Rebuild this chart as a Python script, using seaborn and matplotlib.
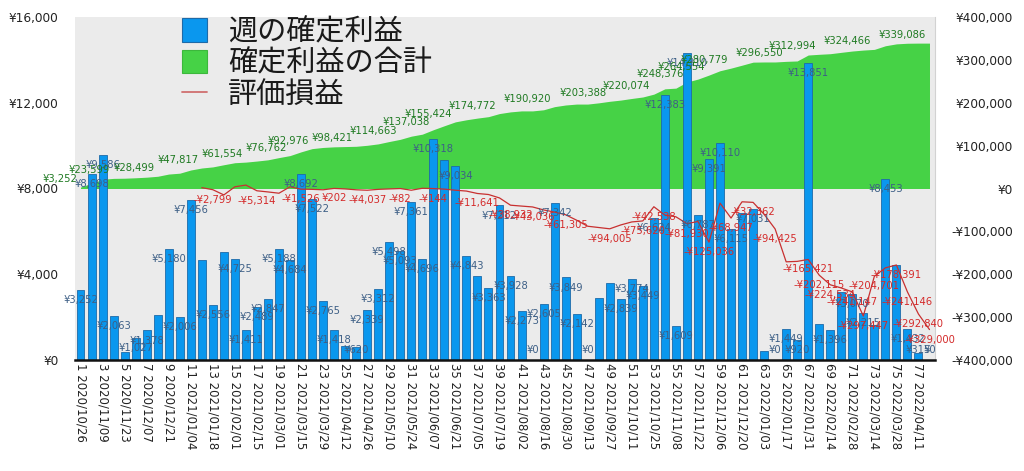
import numpy as np
import pandas as pd
import matplotlib
matplotlib.use("Agg")
import matplotlib.pyplot as plt
import seaborn as sns
from matplotlib.patches import Patch
from matplotlib.lines import Line2D
from matplotlib.ticker import FuncFormatter, FixedLocator
from matplotlib.font_manager import FontProperties

# ---------------- data ----------------
weeks = list(range(1, 79))
weekly_profit = [
    3252, 8698, 9586, 2063, 389, 1027, 1378, 2106, 5180, 2006,
    7456, 4676, 2556, 5045, 4725, 1411, 2489, 2847, 5188, 4684,
    8692, 7522, 2765, 1418, 642, 620, 2339, 3312, 5498, 5093,
    7361, 4696, 10318, 9352, 9034, 4843, 3930, 3363, 7212, 3928,
    2273, 0, 2605, 7342, 3849, 2142, 0, 2870, 3607, 2839,
    3774, 3449, 6624, 12383, 1609, 14310, 6787, 9391, 10110, 6115,
    6871, 7031, 420, 0, 1449, 920, 13851, 1673, 1396, 3180,
    3070, 2215, 1611, 8453, 4420, 1432, 315, 0,
]
# weeks whose bar value label is visible
bar_label_weeks = [1, 2, 3, 4, 6, 7, 9, 10, 11, 13, 15, 16, 17, 18, 19, 20,
                   21, 22, 23, 24, 26, 27, 28, 29, 30, 31, 32, 33, 35, 36,
                   38, 39, 40, 41, 42, 43, 44, 45, 46, 47, 50, 51, 52, 53,
                   54, 55, 56, 57, 58, 59, 60, 62, 64, 65, 66, 67, 69, 71,
                   72, 74, 76, 77, 78]

unrealized_weeks = list(range(12, 79))
unrealized = [
    2000, -2799, -15000, 4000, 8000, -5314, -8000, -11000, 4000, -1526,
    -2000, -3000, 202, -1000, -3000, -4037, -2000, -1000, -82, -4000,
    500, -144, -1500, -4000, -6000, -11641, -14000, -22000, -38932, -41000,
    -43036, -50000, -55000, -61305, -74000, -88000, -91000, -94005, -85000, -78000,
    -75620, -42538, -62000, -66000, -81930, -77000, -125036, -34000, -68947, -31000,
    -32362, -60000, -94425, -171000, -170000, -165421, -202115, -224534, -232000, -241147,
    -297447, -204701, -185000, -178391, -241146, -292840, -329000,
]
unrealized_label_weeks = [13, 17, 21, 24, 27, 30, 33, 37, 40, 42, 45, 49, 52, 53,
                          56, 58, 60, 62, 64, 67, 68, 69, 71, 72, 73, 75, 76, 77, 78]

cumulative_label_weeks = [1, 4, 8, 12, 16, 20, 22, 26, 30, 33, 35, 39, 44, 49,
                          53, 56, 58, 60, 65, 68, 73, 78]

tick_weeks = list(range(1, 79, 2))
tick_dates = [
    "2020/10/26", "2020/11/09", "2020/11/23", "2020/12/07", "2020/12/21",
    "2021/01/04", "2021/01/18", "2021/02/01", "2021/02/15", "2021/03/01",
    "2021/03/15", "2021/03/29", "2021/04/12", "2021/04/26", "2021/05/10",
    "2021/05/24", "2021/06/07", "2021/06/21", "2021/07/05", "2021/07/19",
    "2021/08/02", "2021/08/16", "2021/08/30", "2021/09/13", "2021/09/27",
    "2021/10/11", "2021/10/25", "2021/11/08", "2021/11/22", "2021/12/06",
    "2021/12/20", "2022/01/03", "2022/01/17", "2022/01/31", "2022/02/14",
    "2022/02/28", "2022/03/14", "2022/03/28", "2022/04/11",
]
left_ticks = [0, 4000, 8000, 12000, 16000]
right_ticks = list(range(-400000, 400001, 100000))
legend_labels = ["週の確定利益", "確定利益の合計", "評価損益"]

# ---------------- style ----------------
BLUE = "#0a97ee"
BLUE_EDGE = "#1d6aa8"
GREEN = "#46d246"
RED = "#c83030"
BAR_TXT = "#3d5f86"
GREEN_TXT = "#1f7a22"
RED_TXT = "#d42a2a"
BG = "#ebebeb"

sns.set_theme(style="white")
plt.rcParams["font.family"] = ["DejaVu Sans", "Noto Sans CJK JP"]


def yen(v):
    v = int(round(v))
    return f"-¥{abs(v):,}" if v < 0 else f"¥{v:,}"


fig = plt.figure(figsize=(10.24, 4.71), dpi=100)
rect = [75 / 1024, 111 / 471, 860 / 1024, 343 / 471]
ax_bar = fig.add_axes(rect)
ax_area = ax_bar.twinx()
ax_line = ax_bar.twinx()
ax_area.set_zorder(1)
ax_bar.set_zorder(2)
ax_line.set_zorder(3)
ax_area.patch.set_visible(True)
ax_area.patch.set_facecolor(BG)
ax_bar.patch.set_visible(False)
ax_line.patch.set_visible(False)

# ---- bars ----
df = pd.DataFrame({"week": [str(w) for w in weeks], "profit": weekly_profit})
sns.barplot(data=df, x="week", y="profit", order=df["week"], color=BLUE,
            saturation=1, width=0.72, edgecolor=BLUE_EDGE, linewidth=0.6,
            ax=ax_bar)
ax_bar.set_ylim(0, 16000)
ax_bar.set_xlim(-0.5, len(weeks) - 0.5)
ax_bar.set_xlabel("")
ax_bar.set_ylabel("")
ax_bar.set_yticks(left_ticks)
ax_bar.yaxis.set_major_formatter(FuncFormatter(lambda v, p: yen(v)))
ax_bar.tick_params(axis="y", length=0, pad=12, labelsize=8.7, colors="#222222")
ax_bar.set_xticks([w - 1 for w in tick_weeks])
ax_bar.set_xticklabels([f"{w} {d}" for w, d in zip(tick_weeks, tick_dates)],
                       rotation=-90, fontsize=8.5, color="#222222")
ax_bar.tick_params(axis="x", length=0, pad=2)
for s in ["left", "right", "top"]:
    ax_bar.spines[s].set_visible(False)
ax_bar.spines["bottom"].set_color("#111111")
ax_bar.spines["bottom"].set_linewidth(1.8)

# ---- cumulative area (right axis) ----
cumulative = np.cumsum(weekly_profit)
x = np.arange(len(weeks))
ax_area.fill_between(x, 0, cumulative, color=GREEN, lw=0, zorder=2)
ax_area.set_ylim(-400000, 400000)
ax_area.set_yticks(right_ticks)
ax_area.yaxis.set_major_formatter(FuncFormatter(lambda v, p: yen(v)))
ax_area.tick_params(axis="y", length=0, pad=56, labelsize=8.7, colors="#222222")
for lab in ax_area.get_yticklabels():
    lab.set_horizontalalignment("right")
ax_area.yaxis.set_minor_locator(FixedLocator([-200000, 0, 200000, 400000]))
ax_area.tick_params(axis="y", which="minor", length=0)
ax_area.set_axisbelow(True)
ax_area.grid(which="minor", axis="y", color="#c8c8c8", lw=1.0)
ax_area.grid(which="major", visible=False)
for s in ["left", "top", "bottom"]:
    ax_area.spines[s].set_visible(False)
ax_area.spines["right"].set_color("#d2d2d2")
ax_area.spines["right"].set_linewidth(0.8)

# ---- unrealized line ----
sns.lineplot(x=np.array(unrealized_weeks) - 1, y=unrealized, color=RED,
             lw=0.9, ax=ax_line)
ax_line.set_ylim(-400000, 400000)
ax_line.set_xlim(-0.5, len(weeks) - 0.5)
ax_line.set_axis_off()

# ---- labels ----
# labels sit just inside the bar top; for very short bars they stay above the baseline
min_label_anchor = 16000 * 20 / 343
for w in bar_label_weeks:
    v = weekly_profit[w - 1]
    ax_line.annotate(yen(v), xy=(w - 1, max(v, min_label_anchor)),
                     xycoords=ax_bar.transData,
                     xytext=(0, -7.3), textcoords="offset points",
                     ha="center", va="center", fontsize=7.2, color=BAR_TXT,
                     annotation_clip=False)
for w in cumulative_label_weeks:
    v = cumulative[w - 1]
    ax_line.annotate(yen(v), xy=(w - 1, v), xycoords=ax_area.transData,
                     xytext=(-2.5, 5.8), textcoords="offset points",
                     ha="right", va="center", fontsize=7.2, color=GREEN_TXT,
                     annotation_clip=False)
for w in unrealized_label_weeks:
    v = unrealized[unrealized_weeks.index(w)]
    ax_line.annotate(yen(v), xy=(w - 1, v), xycoords=ax_area.transData,
                     xytext=(0, -7.2), textcoords="offset points",
                     ha="center", va="center", fontsize=7.2, color=RED_TXT,
                     annotation_clip=False)

# ---- legend ----
handles = [
    Patch(facecolor=BLUE, edgecolor=BLUE_EDGE, linewidth=0.8),
    Patch(facecolor=GREEN, edgecolor="#3cb83c", linewidth=0.8),
    Line2D([0], [0], color="#d07070", lw=1.3),
]
leg = ax_line.legend(handles, legend_labels, loc="upper left",
                     bbox_to_anchor=(182 / 1024, 1 - 17 / 471),
                     bbox_transform=fig.transFigure, frameon=False,
                     prop=FontProperties(family=["Noto Sans CJK JP"], size=21),
                     handlelength=0.86, handleheight=0.86, handletextpad=0.72,
                     labelspacing=0.05, borderpad=0, borderaxespad=0)
for t in leg.get_texts():
    t.set_color("#1a1a1a")

fig.savefig("out.png", dpi=100)
